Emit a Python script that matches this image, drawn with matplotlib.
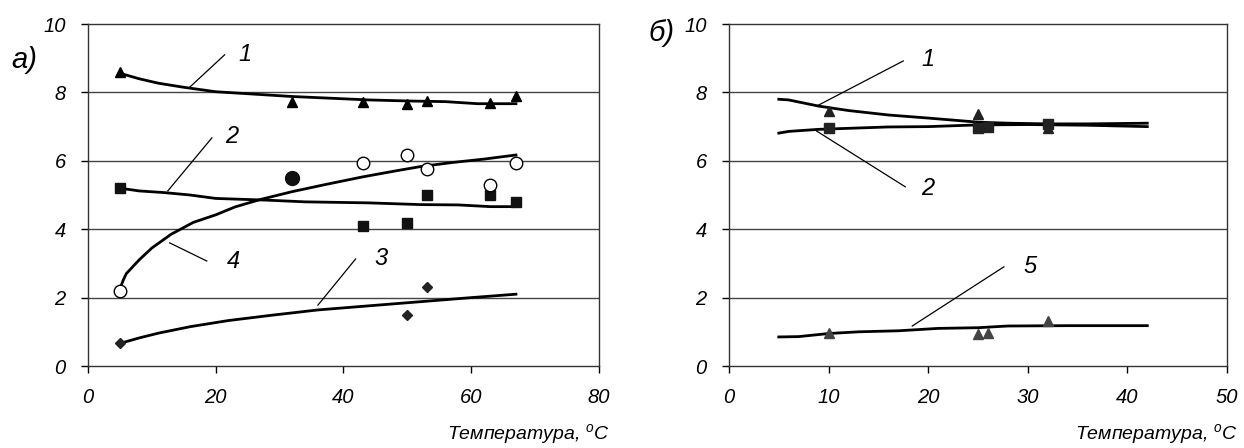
import matplotlib
matplotlib.use('Agg')
import matplotlib.pyplot as plt

plt.rcParams['font.family'] = ['Liberation Sans', 'DejaVu Sans']
plt.rcParams['font.style'] = 'italic'
plt.rcParams['mathtext.fontset'] = 'custom'
plt.rcParams['mathtext.rm'] = 'Liberation Sans:italic'
plt.rcParams['mathtext.it'] = 'Liberation Sans:italic'

# ---- а) данные ----
t1_pts = [5, 32, 43, 50, 53, 63, 67]
y1_pts = [8.6, 7.72, 7.72, 7.67, 7.75, 7.7, 7.9]
t1_fit = [5, 8, 11, 15, 20, 26, 32, 38, 44, 50, 56, 61, 67]
y1_fit = [8.56, 8.4, 8.27, 8.15, 8.02, 7.95, 7.88, 7.83, 7.78, 7.75, 7.73, 7.67, 7.67]

t2_pts = [5, 43, 50, 53, 63, 67]
y2_pts = [5.2, 4.1, 4.18, 5.0, 5.0, 4.8]
t2_fit = [5, 8, 12, 16, 20, 28, 34, 44, 52, 58, 63, 67]
y2_fit = [5.2, 5.12, 5.07, 5.0, 4.9, 4.85, 4.8, 4.77, 4.72, 4.71, 4.66, 4.66]

t3_pts = [5, 50, 53]
y3_pts = [0.66, 1.49, 2.32]
t3_fit = [5, 8, 11, 16, 22, 29, 36, 44, 52, 60, 67]
y3_fit = [0.66, 0.82, 0.96, 1.15, 1.33, 1.49, 1.64, 1.76, 1.88, 2.0, 2.1]

t4_pts = [5, 43, 50, 53, 63, 67]
y4_pts = [2.2, 5.95, 6.17, 5.76, 5.3, 5.95]
t4_dot, y4_dot = [32], [5.5]
t4_fit = [5, 5.5, 6, 7, 8, 10, 13, 16.5, 20, 23, 27, 32, 37, 43, 48, 52, 57, 62, 67]
y4_fit = [2.25, 2.5, 2.7, 2.9, 3.1, 3.45, 3.85, 4.2, 4.42, 4.65, 4.87, 5.1, 5.3, 5.53, 5.7, 5.83, 5.95, 6.05, 6.17]

# ---- б) данные ----
s1_pts = [10, 25, 32]
z1_pts = [7.46, 7.37, 6.97]
s1_fit = [5, 6, 9, 12, 16, 20, 25, 28, 32, 36, 42]
z1_fit = [7.8, 7.78, 7.6, 7.47, 7.34, 7.25, 7.13, 7.1, 7.08, 7.08, 7.1]

s2_pts = [10, 25, 26, 32]
z2_pts = [6.95, 6.95, 7.0, 7.08]
s2_fit = [5, 6, 9, 12, 16, 20, 25, 30, 36, 42]
z2_fit = [6.81, 6.86, 6.92, 6.95, 6.99, 7.0, 7.05, 7.06, 7.04, 7.0]

s5_pts = [10, 25, 26, 32]
z5_pts = [0.96, 0.94, 0.96, 1.32]
s5_fit = [5, 7, 10, 13, 17, 21, 25, 28, 34, 42]
z5_fit = [0.85, 0.86, 0.95, 1.0, 1.03, 1.1, 1.12, 1.17, 1.18, 1.18]

fig = plt.figure(figsize=(12.44, 4.48), dpi=100)
ax1 = fig.add_axes([0.0707, 0.183, 0.4108, 0.7634])
ax2 = fig.add_axes([0.586, 0.183, 0.4003, 0.7634])

for ax, xmax, step in [(ax1, 80, 20), (ax2, 50, 10)]:
    ax.set_xlim(0, xmax)
    ax.set_ylim(0, 10)
    ax.set_xticks(range(0, xmax + 1, step))
    ax.set_yticks([0, 2, 4, 6, 8, 10])
    for g in [2, 4, 6, 8]:
        ax.axhline(g, color='#444444', lw=1.0, zorder=0)
    for s in ax.spines.values():
        s.set_color('#333333')
        s.set_linewidth(1.0)
    ax.tick_params(axis='both', labelsize=14.5, length=5, width=1.0)
    ax.tick_params(axis='y', direction='out', pad=11)
    ax.tick_params(axis='x', direction='out', pad=11)
    ax.set_xlabel(r'Температура, $^o$C', fontsize=14)
    ax.xaxis.set_label_coords(1.02, -0.165)
    ax.xaxis.label.set_horizontalalignment('right')

lw = 2.0
# а)
ax1.plot(t1_fit, y1_fit, color='black', lw=lw)
ax1.plot(t2_fit, y2_fit, color='black', lw=lw)
ax1.plot(t3_fit, y3_fit, color='black', lw=lw)
ax1.plot(t4_fit, y4_fit, color='black', lw=lw)
ax1.plot(t1_pts, y1_pts, '^', color='black', ms=7, zorder=3)
ax1.plot(t2_pts, y2_pts, 's', color='#111111', ms=7, zorder=3)
ax1.plot(t3_pts, y3_pts, 'D', color='#222222', ms=5, zorder=3)
ax1.plot(t4_pts, y4_pts, 'o', mfc='white', mec='black', mew=1.0, ms=9, zorder=4)
ax1.plot(t4_dot, y4_dot, 'o', color='#111111', ms=10, zorder=3)

lbl = dict(fontsize=17, ha='left', va='center')
ax1.plot([15.8, 21.4], [8.13, 9.1], color='black', lw=0.9)
ax1.text(23.5, 9.1, '1', **lbl)
ax1.plot([12.5, 19.4], [5.12, 6.67], color='black', lw=0.9)
ax1.text(21.5, 6.7, '2', **lbl)
ax1.plot([12.8, 18.6], [3.6, 3.07], color='black', lw=0.9)
ax1.text(21.7, 3.05, '4', **lbl)
ax1.plot([36.0, 41.9], [1.78, 3.13], color='black', lw=0.9)
ax1.text(44.8, 3.15, '3', **lbl)

# б)
ax2.plot(s1_fit, z1_fit, color='black', lw=lw)
ax2.plot(s2_fit, z2_fit, color='black', lw=lw)
ax2.plot(s5_fit, z5_fit, color='black', lw=lw)
ax2.plot(s1_pts, z1_pts, '^', color='#222222', ms=7, zorder=3)
ax2.plot(s2_pts, z2_pts, 's', color='#222222', ms=7, zorder=3)
ax2.plot(s5_pts, z5_pts, '^', color='#444444', ms=7, zorder=3)

ax2.plot([8.8, 17.5], [7.6, 8.92], color='black', lw=0.9)
ax2.text(19.3, 8.95, '1', **lbl)
ax2.plot([8.8, 17.7], [6.87, 5.24], color='black', lw=0.9)
ax2.text(19.3, 5.2, '2', **lbl)
ax2.plot([18.4, 27.6], [1.17, 2.9], color='black', lw=0.9)
ax2.text(29.6, 2.9, '5', **lbl)

fig.text(0.009, 0.866, 'а)', fontsize=21, ha='left', va='center')
fig.text(0.521, 0.926, 'б)', fontsize=21, ha='left', va='center')

fig.savefig('out.png', dpi=100)
